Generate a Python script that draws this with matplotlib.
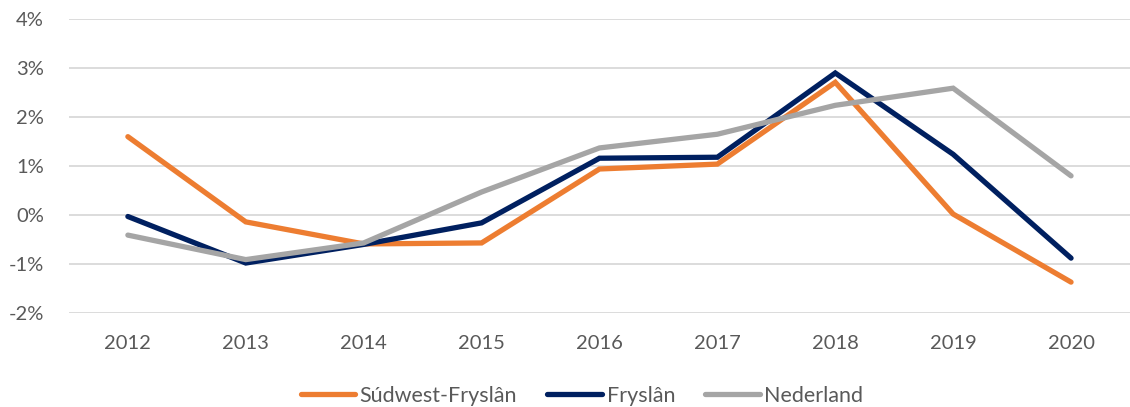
import numpy as np
import matplotlib
matplotlib.use("Agg")
import matplotlib.pyplot as plt
from matplotlib.ticker import PercentFormatter

plt.rcParams['font.family'] = ['Lato', 'DejaVu Sans']
plt.rcParams['axes.unicode_minus'] = False

years = ['2012', '2013', '2014', '2015', '2016', '2017', '2018', '2019', '2020']
sudwest = [1.60, -0.14, -0.59, -0.57, 0.94, 1.04, 2.71, 0.02, -1.37]
fryslan = [-0.03, -0.98, -0.60, -0.16, 1.16, 1.18, 2.90, 1.24, -0.88]
nederland = [-0.41, -0.91, -0.57, 0.47, 1.37, 1.65, 2.24, 2.59, 0.80]

labels = ['Súdwest-Fryslân', 'Fryslân', 'Nederland']
colors = ['#ED7D31', '#002060', '#A5A5A5']

fig = plt.figure(figsize=(11.3, 4.07), dpi=100)
ax = fig.add_axes([0.061, 0.231, 0.939, 0.722])

x = np.arange(len(years))
for series, lab, col in zip([sudwest, fryslan, nederland], labels, colors):
    ax.plot(x, series, color=col, lw=3.8, label=lab, solid_capstyle='round', solid_joinstyle='miter')

ax.set_xlim(-0.5, len(years) - 0.5)
ax.set_ylim(-2, 4)
ax.set_yticks(np.arange(-2, 5, 1))
ax.yaxis.set_major_formatter(PercentFormatter(decimals=0))
ax.set_xticks(x)
ax.set_xticklabels(years)
ax.grid(axis='y', color='#D9D9D9', lw=1.3)
ax.set_axisbelow(True)
for s in ax.spines.values():
    s.set_visible(False)
ax.tick_params(length=0, labelsize=14.5, labelcolor='#595959')
ax.tick_params(axis='x', pad=16)
ax.tick_params(axis='y', pad=18)

leg = fig.legend(loc='lower center', bbox_to_anchor=(0.515, -0.045), ncol=3, frameon=False,
                 fontsize=15.5, handlelength=2.55, handletextpad=0.2, columnspacing=1.4)
for t in leg.get_texts():
    t.set_color('#595959')

fig.savefig('out.png', dpi=100)
